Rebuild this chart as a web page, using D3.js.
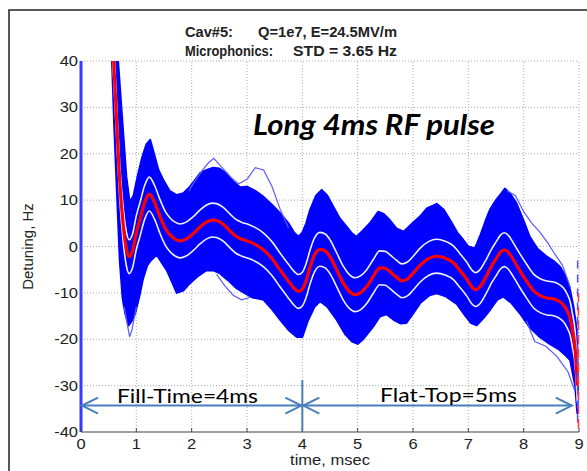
<!DOCTYPE html>
<html>
<head>
<meta charset="UTF-8">
<script src="https://d3js.org/d3.v7.min.js"></script>
<style>
  body { margin: 0; background: #fff; }
  svg { display: block; }
</style>
</head>
<body>
<svg id="canvas"></svg>
<script>
width = 587;
height = 471;

// ticks
xTicks = [0, 1, 2, 3, 4, 5, 6, 7, 8, 9];
yTicks = [-40, -30, -20, -10, 0, 10, 20, 30, 40];

// mean detuning (red)
meanT = [0.55, 0.59, 0.64, 0.70, 0.76, 0.82, 0.87, 0.93, 1.0, 1.07, 1.15, 1.235, 1.33, 1.43, 1.52, 1.61, 1.70, 1.79, 1.9,
         2.03, 2.15, 2.27, 2.37, 2.45, 2.57, 2.69, 2.8, 2.9, 3.05, 3.17, 3.3, 3.45, 3.6, 3.75, 3.85, 3.93, 4.0,
         4.07, 4.14, 4.22, 4.32, 4.42, 4.5, 4.62, 4.74, 4.85, 4.95, 5.05, 5.16, 5.28, 5.4, 5.5, 5.58, 5.7, 5.8,
         5.9, 6.0, 6.13, 6.28, 6.43, 6.58, 6.73, 6.85, 6.97, 7.07, 7.13, 7.2, 7.33, 7.42, 7.51, 7.58, 7.65, 7.72,
         7.81, 7.93, 8.06, 8.18, 8.3, 8.42, 8.54, 8.64, 8.72, 8.79, 8.84, 8.88, 8.93, 8.97];
meanV = [48, 40, 28, 14, 5, -0.5, -2.2, -1, 3, 6, 9.5, 11.3, 9.5, 6.4, 4, 2.5, 1.6, 1.2, 1.6,
         2.8, 4.2, 5.3, 5.7, 5.6, 4.8, 3.4, 2.2, 1.6, 1.0, 0.3, -0.75, -2.6, -5.1, -7.5, -9, -9.7, -9.2,
         -7.3, -4.4, -1.8, -0.6, -1.0, -2.2, -5, -7.9, -9.7, -10.4, -10, -8.7, -6.5, -4.6, -4.7, -5.4, -6.6, -7.4,
         -7.0, -5.8, -4.0, -2.6, -2.1, -2.5, -3.5, -5.2, -7.0, -8.8, -9.3, -8.8, -6.3, -4.2, -2.5, -1.2, -0.7, -1.2,
         -2.8, -5.2, -7.6, -9.6, -10.6, -11.1, -11.3, -11.8, -12.6, -14, -15.5, -18, -22, -30];
stdHz = 3.65;

// envelope of all pulses (blue)
upperT = [0.62, 0.67, 0.76, 0.82, 0.88, 0.95, 1.02, 1.1, 1.18, 1.25, 1.32, 1.4, 1.49, 1.6, 1.73, 1.85, 1.97, 2.07, 2.15,
          2.27, 2.39, 2.5, 2.63, 2.75, 2.87, 3.0, 3.15, 3.3, 3.45, 3.6, 3.75, 3.85, 3.93, 4.0, 4.07, 4.14, 4.25,
          4.35, 4.45, 4.56, 4.68, 4.8, 4.9, 4.98, 5.1, 5.22, 5.37, 5.47, 5.58, 5.7, 5.83, 6.0, 6.13, 6.25, 6.43,
          6.55, 6.67, 6.8, 6.91, 7.0, 7.12, 7.22, 7.31, 7.39, 7.5, 7.6, 7.66, 7.75, 7.87, 8.0, 8.11, 8.25, 8.42,
          8.55, 8.66, 8.76, 8.84, 8.9, 8.96, 8.98];
upperV = [50, 40, 25, 15, 9.5, 11, 15, 19, 22, 23, 20, 16.5, 14.3, 12, 11.1, 11.5, 12.9, 14.5, 15.8,
          16.5, 17, 16.8, 15.8, 14, 12.8, 12.9, 12, 10.7, 9, 7.2, 5, 3, 2.1, 3, 5, 7.9, 11,
          12.2, 11, 8.6, 6, 4.3, 2.8, 2.1, 3.5, 5.0, 7.5, 7, 5.7, 3.9, 3.2, 5.1, 6.5, 8.2, 9.2,
          8, 5.7, 3, 1.4, 0, -0.4, 2.5, 5.5, 7.9, 10, 11.5, 12.5, 11.5, 9.3, 5.5, 2.1, -0.5, -2.2,
          -3.2, -4.4, -6.5, -9.4, -13, -18, -30];
lowerT = [0.55, 0.56, 0.6, 0.655, 0.70, 0.75, 0.8, 0.86, 0.92, 0.98, 1.05, 1.12, 1.2, 1.27, 1.37, 1.46, 1.55, 1.64, 1.73,
          1.85, 1.97, 2.1, 2.27, 2.4, 2.51, 2.65, 2.81, 2.95, 3.1, 3.3, 3.45, 3.6, 3.75, 3.9, 4.0, 4.1, 4.22,
          4.32, 4.45, 4.62, 4.78, 4.9, 5.0, 5.1, 5.28, 5.4, 5.52, 5.65, 5.77, 5.88, 6.0, 6.13, 6.3, 6.43, 6.6,
          6.79, 6.95, 7.05, 7.15, 7.27, 7.39, 7.52, 7.63, 7.78, 7.93, 8.1, 8.29, 8.47, 8.65, 8.76, 8.84, 8.93, 8.97, 8.98];
lowerV = [45, 40, 26, 10, -3, -11, -14.5, -17, -16, -14.4, -11, -7, -4, -2.9, -1.8, -3.5, -5.1, -7.5, -10,
          -9.5, -7.9, -6.5, -5.1, -5.2, -5.8, -7.2, -9, -10, -11, -11.5, -13.5, -15.8, -18, -19.5, -19.5, -16, -13,
          -11.8, -13, -15.8, -19, -20.5, -21, -20, -17.3, -15.1, -14.6, -15.8, -16.6, -16.5, -14.5, -12.2, -10.5, -10.1, -10.8,
          -12.4, -15, -16.5, -17, -15.5, -13.7, -11.5, -10.8, -12.2, -14.4, -17.3, -19.5, -21, -22.3, -23.5, -24.5, -30, -36, -30];

// single stray pulses outside the main band
strayA = [[1.95, 12], [2.05, 14], [2.2, 16.5], [2.3, 18], [2.4, 19], [2.55, 17], [2.7, 15], [2.85, 13.5], [3.0, 14.5],
          [3.15, 17], [3.3, 16.5], [3.45, 13], [3.6, 8], [3.75, 4]];
strayB = [[7.7, 12], [7.85, 11], [8.0, 7.5], [8.15, 5], [8.3, 3], [8.45, 0.5], [8.55, -1.4], [8.7, -4], [8.85, -9]];
strayC = [[0.78, -13], [0.84, -17], [0.88, -19.5], [0.92, -18], [1.0, -13]];
strayD = [[8.05, -16], [8.2, -20.5], [8.4, -21.5], [8.6, -23.7], [8.8, -27], [8.92, -31]];
strayE = [[2.45, -6], [2.6, -8.5], [2.75, -10.5], [2.9, -11.5], [3.05, -11]];

// off-scale end of pulse (dashed)
endBlue = [[8.975, -3], [8.975, -38]];
endRed = [[8.99, -10], [8.99, -40]];

// annotation
arrowLevel = -34.3;
fillSpan = [0, 4];
flatSpan = [4, 8.87];
dividerSpan = [-28.8, -39.8];

canvas = d3.select("#canvas")
    .attr("width", width)
    .attr("height", height);

// outer frame
canvas.append("rect")
    .attr("x", 9).attr("y", 10)
    .attr("width", width + 20).attr("height", height + 20)
    .attr("style", "fill:#fff; stroke:#222; stroke-width:1.5;");

x = d3.scaleLinear().domain([0, 9]).range([81, 579]);
y = d3.scaleLinear().domain([-40, 40]).range([432, 61]);

canvas.append("clipPath").attr("id", "plotclip")
  .append("rect")
    .attr("x", x(0)).attr("y", y(40))
    .attr("width", x(9) - x(0) + 2).attr("height", y(-40) - y(40));

// dotted grid
grid = canvas.append("g");
grid.selectAll("line.gx").data(xTicks.slice(1)).enter().append("line")
    .attr("x1", d => x(d)).attr("x2", d => x(d))
    .attr("y1", y(-40)).attr("y2", y(40))
    .attr("style", "stroke:#aaa; stroke-width:1; stroke-dasharray:1,2;");
grid.selectAll("line.gy").data(yTicks.slice(1)).enter().append("line")
    .attr("x1", x(0)).attr("x2", x(9))
    .attr("y1", d => y(d)).attr("y2", d => y(d))
    .attr("style", "stroke:#aaa; stroke-width:1; stroke-dasharray:1,2;");

plot = canvas.append("g").attr("clip-path", "url(#plotclip)");

// blue band of all pulses
upperPts = upperT.map((t, i) => [t, upperV[i]]);
lowerPts = lowerT.map((t, i) => [t, lowerV[i]]);
bandPts = upperPts.concat(lowerPts.slice().reverse());
plot.append("path")
    .attr("d", d3.line().x(d => x(d[0])).y(d => y(d[1])).curve(d3.curveLinearClosed)(bandPts))
    .attr("style", "fill:#0000ff; stroke:#0000ff; stroke-width:2; stroke-linejoin:round;");

strayLine = d3.line().x(d => x(d[0])).y(d => y(d[1])).curve(d3.curveLinear);
[strayA, strayB, strayC, strayD, strayE].forEach(function(s) {
    plot.append("path")
        .attr("d", strayLine(s))
        .attr("style", "fill:none; stroke:#5a5aff; stroke-width:1.2;");
});

// mean +/- std (white) and mean (red)
meanPts = meanT.map((t, i) => [t, meanV[i]]);
smooth = d3.line().x(d => x(d[0])).y(d => y(d[1])).curve(d3.curveMonotoneX);
[stdHz, -stdHz].forEach(function(s) {
    plot.append("path")
        .attr("d", smooth(meanPts.map(d => [d[0], d[1] + s])))
        .attr("style", "fill:none; stroke:#eef0ff; stroke-width:1.6;");
});
plot.append("path")
    .attr("d", smooth(meanPts))
    .attr("style", "fill:none; stroke:#ff0000; stroke-width:3.2;");

plot.append("path")
    .attr("d", strayLine(endBlue))
    .attr("style", "fill:none; stroke:#5050ff; stroke-width:1.5; stroke-dasharray:8,6;");
plot.append("path")
    .attr("d", strayLine(endRed))
    .attr("style", "fill:none; stroke:#ff4040; stroke-width:1.5; stroke-dasharray:9,5;");

// axes
canvas.append("line")
    .attr("x1", x(0)).attr("x2", x(9)).attr("y1", y(-40)).attr("y2", y(-40))
    .attr("style", "stroke:#808080; stroke-width:1.5;");
canvas.append("line")
    .attr("x1", x(0)).attr("x2", x(0)).attr("y1", y(-40)).attr("y2", y(40))
    .attr("style", "stroke:#3a3aff; stroke-width:3;");
canvas.selectAll("line.xt").data(xTicks).enter().append("line")
    .attr("x1", d => x(d)).attr("x2", d => x(d))
    .attr("y1", y(-40)).attr("y2", y(-40) - 4)
    .attr("style", "stroke:#444; stroke-width:1;");

// the picture's text is a little wider than tall: stretch horizontally
stretch = 1.18;
labelStyle = "font-family:'Liberation Sans', Arial, sans-serif; font-size:14px; fill:#222;";
canvas.selectAll("text.xl").data(xTicks).enter().append("text")
    .attr("transform", d => "translate(" + x(d) + ",449) scale(" + stretch + ",1)")
    .attr("text-anchor", "middle")
    .attr("style", labelStyle)
    .text(d => d);
canvas.selectAll("text.yl").data(yTicks).enter().append("text")
    .attr("transform", d => "translate(78," + (y(d) + 5) + ") scale(" + stretch + ",1)")
    .attr("text-anchor", "end")
    .attr("style", labelStyle)
    .text(d => d);

canvas.append("text")
    .attr("transform", "translate(" + ((x(0) + x(9)) / 2) + ",465) scale(" + stretch + ",1)")
    .attr("text-anchor", "middle")
    .attr("style", labelStyle)
    .text("time, msec");
canvas.append("text")
    .attr("transform", "translate(33," + (y(0)) + ") rotate(-90)")
    .attr("text-anchor", "middle")
    .attr("style", "font-family:'Liberation Sans', Arial, sans-serif; font-size:15px; fill:#222;")
    .text("Detuning, Hz");

// title
titleStyle = "font-family:'Liberation Sans', Arial, sans-serif; font-size:14.5px; font-weight:bold; fill:#222;";
titleParts = [
    {s: "Cav#5:", x: 185, y: 37, w: 48},
    {s: "Q=1e7, E=24.5MV/m", x: 258, y: 37, w: 139},
    {s: "Microphonics:", x: 185, y: 56, w: 88},
    {s: "STD = 3.65 Hz", x: 293, y: 56, w: 104}
];
canvas.selectAll("text.title").data(titleParts).enter().append("text")
    .attr("x", d => d.x).attr("y", d => d.y)
    .attr("textLength", d => d.w).attr("lengthAdjust", "spacingAndGlyphs")
    .attr("style", titleStyle)
    .text(d => d.s);

canvas.append("text")
    .attr("x", 253).attr("y", 135)
    .attr("textLength", 242).attr("lengthAdjust", "spacingAndGlyphs")
    .attr("style", "font-family:Lato, 'Open Sans', sans-serif; font-size:28px; font-weight:bold; font-style:italic; fill:#000;")
    .text("Long 4ms RF pulse");

// fill-time / flat-top arrows
arrowColor = "#4a7ebb";
ann = canvas.append("g").attr("style", "stroke:" + arrowColor + "; stroke-width:2; fill:none;");
ann.append("line")
    .attr("x1", x(fillSpan[0])).attr("x2", x(fillSpan[1]) - 1)
    .attr("y1", y(arrowLevel)).attr("y2", y(arrowLevel));
ann.append("line")
    .attr("x1", x(flatSpan[0]) + 1).attr("x2", x(flatSpan[1]))
    .attr("y1", y(arrowLevel)).attr("y2", y(arrowLevel));
ann.append("line")
    .attr("x1", x(4)).attr("x2", x(4))
    .attr("y1", y(dividerSpan[0])).attr("y2", y(dividerSpan[1]));
function chevron(tipX, dir) {
    var ty = y(arrowLevel);
    return "M" + (tipX + dir * 16) + "," + (ty - 8) + "L" + tipX + "," + ty + "L" + (tipX + dir * 16) + "," + (ty + 8);
}
ann.append("path").attr("d", chevron(x(fillSpan[0]) + 1, 1));
ann.append("path").attr("d", chevron(x(fillSpan[1]) - 1, -1));
ann.append("path").attr("d", chevron(x(flatSpan[0]) + 1, 1));
ann.append("path").attr("d", chevron(x(flatSpan[1]), -1));

annStyle = "font-family:Lato, 'Open Sans', sans-serif; font-size:20px; fill:#000;";
canvas.append("text").attr("x", 117).attr("y", 403)
    .attr("textLength", 141).attr("lengthAdjust", "spacingAndGlyphs")
    .attr("style", annStyle).text("Fill-Time=4ms");
canvas.append("text").attr("x", 380).attr("y", 402)
    .attr("textLength", 137).attr("lengthAdjust", "spacingAndGlyphs")
    .attr("style", annStyle).text("Flat-Top=5ms");
</script>
</body>
</html>
